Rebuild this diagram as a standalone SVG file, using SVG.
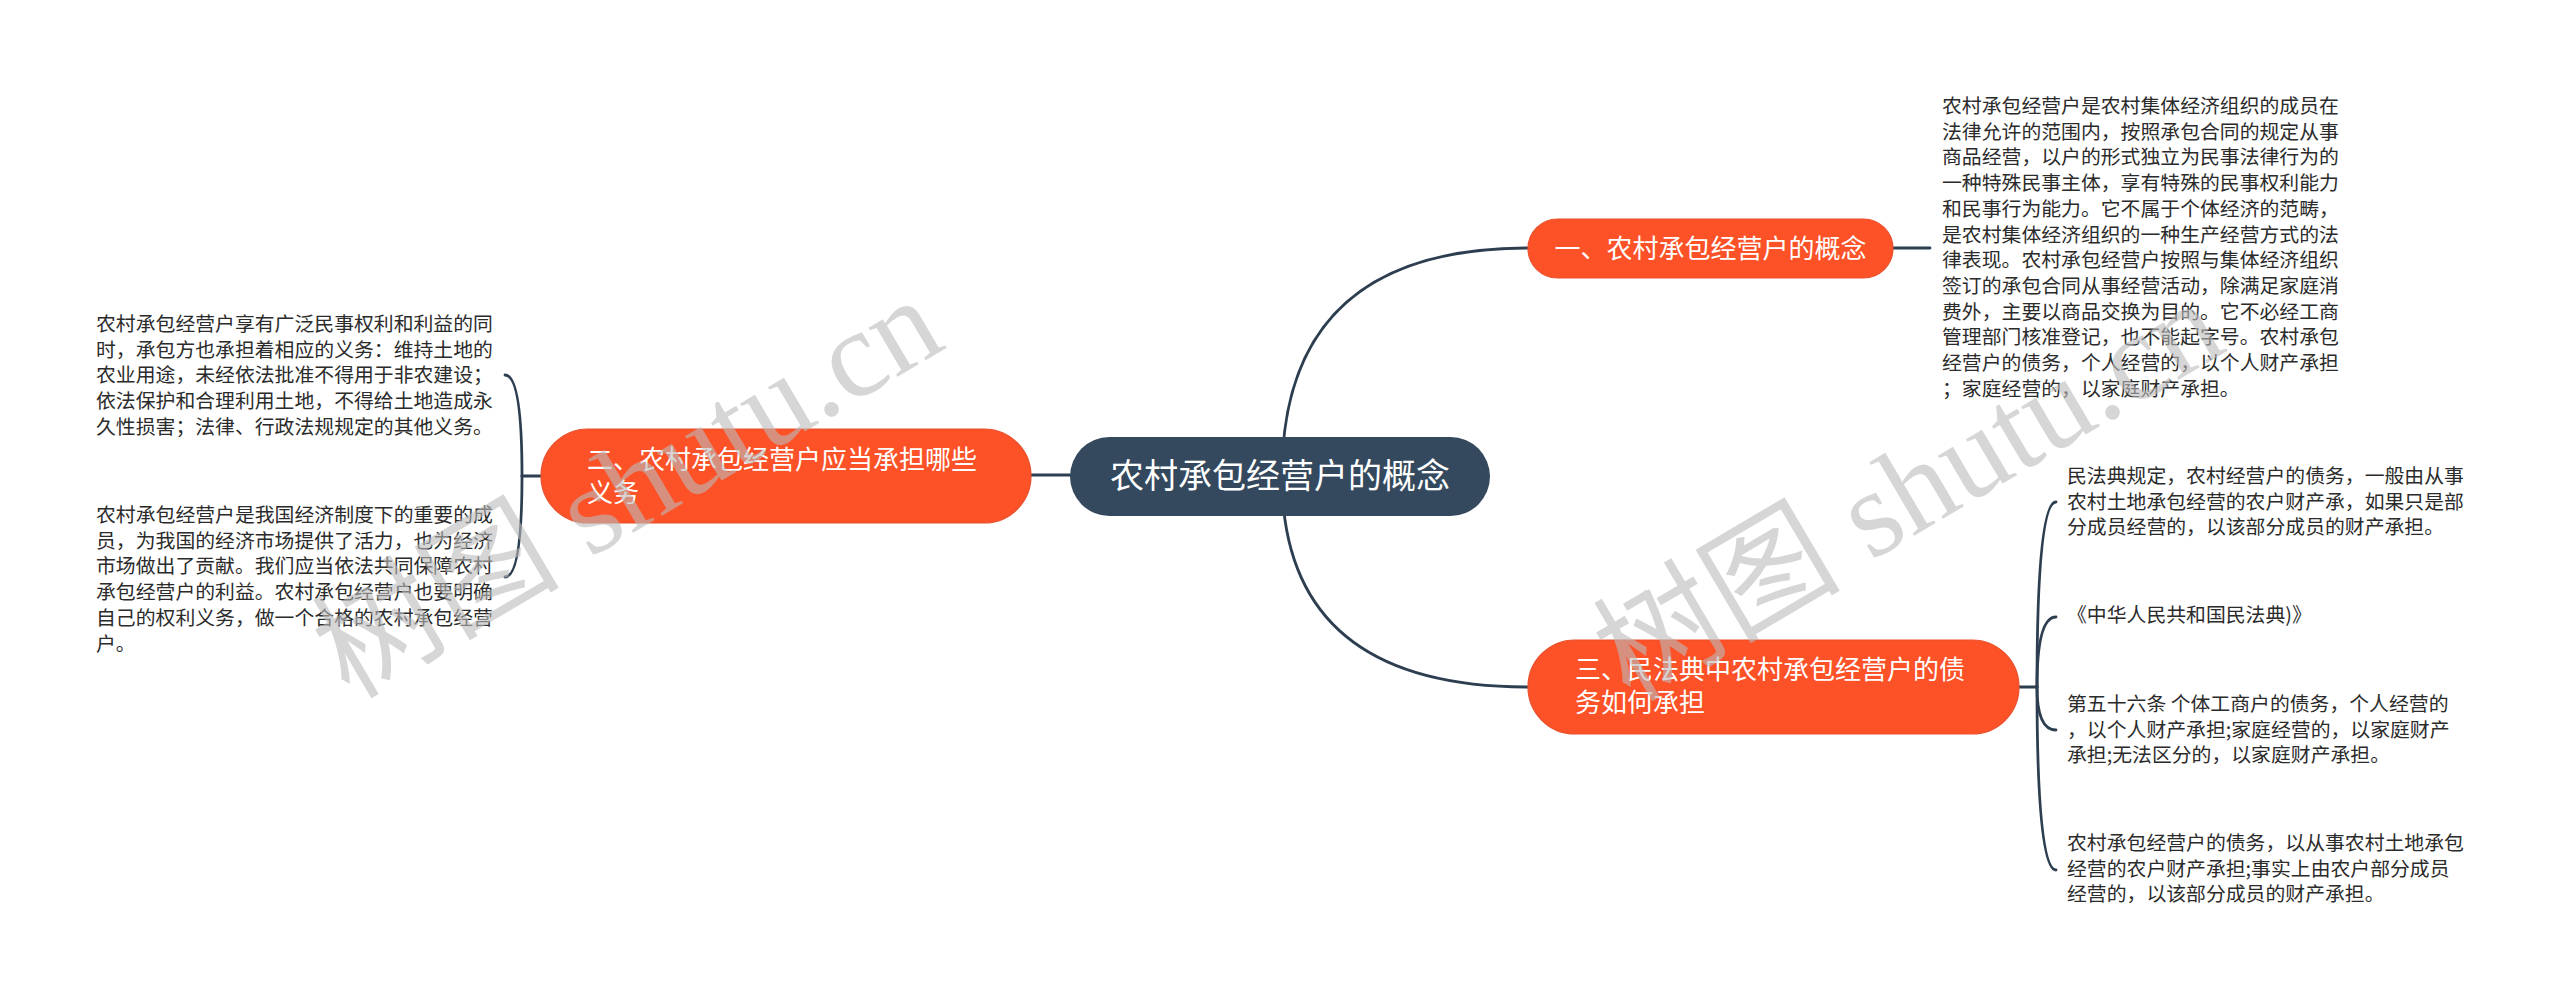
<svg xmlns="http://www.w3.org/2000/svg" width="2560" height="1004" viewBox="0 0 2560 1004">
<style>
.conn{fill:none;stroke:#2c3e50;stroke-width:2.8;stroke-linecap:round}
.center{fill:#34495e}
.branch{fill:#fd5127;stroke:#e9502c;stroke-width:1.2}
.ctext{font-family:"Noto Sans CJK SC","Noto Sans",sans-serif;font-size:34px;fill:#ffffff}
.btext{font-family:"Noto Sans CJK SC","Noto Sans",sans-serif;font-size:26px;fill:#ffffff}
.leaf{font-family:"Noto Sans CJK SC","Noto Sans",sans-serif;font-size:19.85px;fill:#2b2b2b}
.wm{font-family:"Liberation Serif","Noto Sans CJK SC",serif;font-size:124px;fill:#bbbbbb;fill-opacity:0.6}
</style>
<rect width="2560" height="1004" fill="#ffffff"/>
<g id="connectors">
  <path class="conn" d="M1282,476 Q1282,248 1528,248"/>
  <path class="conn" d="M1282,476 Q1282,687 1528,687"/>
  <path class="conn" d="M1070,475 L1031,475"/>
  <path class="conn" d="M541,476 L522,476"/>
  <path class="conn" d="M522,476 Q522,375 505,375"/>
  <path class="conn" d="M522,476 Q522,577 505,577"/>
  <path class="conn" d="M1893,248 L1930,248"/>
  <path class="conn" d="M2019,687 L2037,687"/>
  <path class="conn" d="M2037,687 Q2037,502 2056,502"/>
  <path class="conn" d="M2037,687 Q2037,617 2056,617"/>
  <path class="conn" d="M2037,687 Q2037,730 2056,730"/>
  <path class="conn" d="M2037,687 Q2037,870 2056,870"/>
</g>
<g id="node-center">
  <rect class="center" x="1070" y="437" width="420" height="79" rx="39.5"/>
  <text class="ctext" x="1280" y="488" text-anchor="middle">农村承包经营户的概念</text>
</g>
<g id="node-1">
  <rect class="branch" x="1528" y="219" width="365" height="59" rx="29.5"/>
  <text class="btext" x="1710.5" y="258" text-anchor="middle">一、农村承包经营户的概念</text>
</g>
<g id="node-2">
  <rect class="branch" x="541" y="429" width="490" height="94" rx="47"/>
  <text class="btext"><tspan x="587" y="469">二、农村承包经营户应当承担哪些</tspan><tspan x="587" y="502">义务</tspan></text>
</g>
<g id="node-3">
  <rect class="branch" x="1528" y="640" width="491" height="94" rx="47"/>
  <text class="btext"><tspan x="1575" y="679">三、民法典中农村承包经营户的债</tspan><tspan x="1575" y="712">务如何承担</tspan></text>
</g>
<g id="leaf-1-1">
  <text class="leaf"><tspan x="1942" y="113">农村承包经营户是农村集体经济组织的成员在</tspan><tspan x="1942" dy="25.7">法律允许的范围内，按照承包合同的规定从事</tspan><tspan x="1942" dy="25.7">商品经营，以户的形式独立为民事法律行为的</tspan><tspan x="1942" dy="25.7">一种特殊民事主体，享有特殊的民事权利能力</tspan><tspan x="1942" dy="25.7">和民事行为能力。它不属于个体经济的范畴，</tspan><tspan x="1942" dy="25.7">是农村集体经济组织的一种生产经营方式的法</tspan><tspan x="1942" dy="25.7">律表现。农村承包经营户按照与集体经济组织</tspan><tspan x="1942" dy="25.7">签订的承包合同从事经营活动，除满足家庭消</tspan><tspan x="1942" dy="25.7">费外，主要以商品交换为目的。它不必经工商</tspan><tspan x="1942" dy="25.7">管理部门核准登记，也不能起字号。农村承包</tspan><tspan x="1942" dy="25.7">经营户的债务，个人经营的，以个人财产承担</tspan><tspan x="1942" dy="25.7">；家庭经营的，以家庭财产承担。</tspan></text>
</g>
<g id="leaf-2-1">
  <text class="leaf"><tspan x="96" y="331">农村承包经营户享有广泛民事权利和利益的同</tspan><tspan x="96" dy="25.7">时，承包方也承担着相应的义务：维持土地的</tspan><tspan x="96" dy="25.7">农业用途，未经依法批准不得用于非农建设；</tspan><tspan x="96" dy="25.7">依法保护和合理利用土地，不得给土地造成永</tspan><tspan x="96" dy="25.7">久性损害；法律、行政法规规定的其他义务。</tspan></text>
</g>
<g id="leaf-2-2">
  <text class="leaf"><tspan x="96" y="522">农村承包经营户是我国经济制度下的重要的成</tspan><tspan x="96" dy="25.7">员，为我国的经济市场提供了活力，也为经济</tspan><tspan x="96" dy="25.7">市场做出了贡献。我们应当依法共同保障农村</tspan><tspan x="96" dy="25.7">承包经营户的利益。农村承包经营户也要明确</tspan><tspan x="96" dy="25.7">自己的权利义务，做一个合格的农村承包经营</tspan><tspan x="96" dy="25.7">户。</tspan></text>
</g>
<g id="leaf-3-1">
  <text class="leaf"><tspan x="2067" y="483">民法典规定，农村经营户的债务，一般由从事</tspan><tspan x="2067" dy="25.7">农村土地承包经营的农户财产承，如果只是部</tspan><tspan x="2067" dy="25.7">分成员经营的，以该部分成员的财产承担。</tspan></text>
</g>
<g id="leaf-3-2">
  <text class="leaf" x="2067" y="622">《中华人民共和国民法典)》</text>
</g>
<g id="leaf-3-3">
  <text class="leaf"><tspan x="2067" y="711">第五十六条 个体工商户的债务，个人经营的</tspan><tspan x="2067" dy="25.7">，以个人财产承担;家庭经营的，以家庭财产</tspan><tspan x="2067" dy="25.7">承担;无法区分的，以家庭财产承担。</tspan></text>
</g>
<g id="leaf-3-4">
  <text class="leaf"><tspan x="2067" y="850">农村承包经营户的债务，以从事农村土地承包</tspan><tspan x="2067" dy="25.7">经营的农户财产承担;事实上由农户部分成员</tspan><tspan x="2067" dy="25.7">经营的，以该部分成员的财产承担。</tspan></text>
</g>
<g id="watermark">
  <text class="wm" transform="translate(349,700) rotate(-30.5)">树图 shutu.cn</text>
  <text class="wm" transform="translate(1630,703) rotate(-30.5)">树图 shutu.cn</text>
</g>
</svg>
